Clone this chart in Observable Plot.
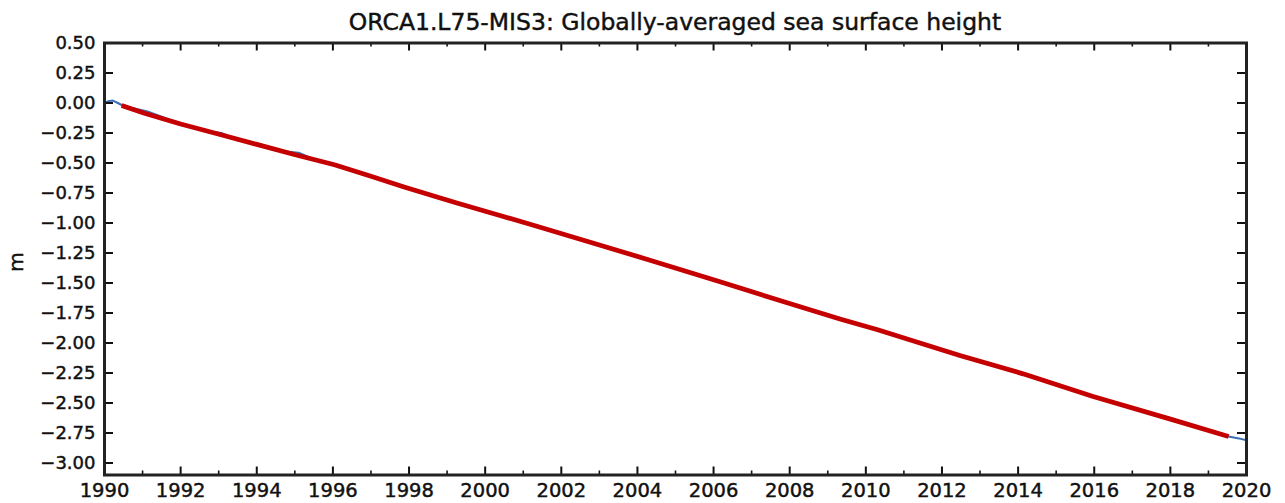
<!DOCTYPE html>
<html><head><meta charset="utf-8">
<script src="https://cdn.jsdelivr.net/npm/d3@7"></script>
<script src="https://cdn.jsdelivr.net/npm/@observablehq/plot@0.6"></script>
<style>
body{margin:0;background:#fff;}
#wrap{position:relative;width:1285px;height:503px;}
#title{position:absolute;left:104px;width:1142px;top:8px;text-align:center;font-family:"DejaVu Sans";font-size:23.5px;color:#111;white-space:nowrap;-webkit-text-stroke:0.45px #111;}
#ylab{position:absolute;left:16px;top:262px;transform:translate(-50%,-50%) rotate(-90deg);font-family:"DejaVu Sans";font-size:20px;color:#111;-webkit-text-stroke:0.45px #111;}
#chart{position:absolute;left:0;top:0;}
#chart svg text{stroke:#111;stroke-width:0.45px;}
</style></head><body>
<div id="wrap">
<div id="chart"></div>
<div id="title">ORCA1.L75-MIS3: Globally-averaged sea surface height</div>
<div id="ylab">m</div>
</div>
<script>
// Raw globally-averaged SSH (blue)
const blueYears = [1990.0,1990.1,1990.22,1990.35,1990.5,1991.13,1991.5,1992.0,1992.6,1993.07,1993.5,1994.0,1994.6,1995.1,1995.6,1996.04,1997.0,1997.87,1999.19,2000.41,2001.18,2002.76,2004.33,2006.17,2007.74,2009.32,2010.31,2012.47,2014.13,2015.97,2017.98,2019.53,2019.8,2020.0];
const blueValues = [0.0,0.015,0.02,0.0,-0.025,-0.07,-0.115,-0.175,-0.232,-0.25,-0.31,-0.345,-0.40,-0.415,-0.48,-0.515,-0.61,-0.70,-0.827,-0.94,-1.01,-1.16,-1.31,-1.49,-1.646,-1.80,-1.89,-2.104,-2.257,-2.446,-2.632,-2.779,-2.795,-2.81];
// Smoothed series (red)
const redYears = [1990.45,1991.05,1992.0,1993.06,1994.0,1995.06,1996.04,1997.0,1997.87,1999.19,2000.41,2001.18,2002.76,2004.33,2006.17,2007.74,2009.32,2010.31,2012.47,2014.13,2015.97,2017.98,2019.53];
const redValues = [-0.02,-0.085,-0.175,-0.265,-0.345,-0.435,-0.515,-0.61,-0.70,-0.827,-0.94,-1.01,-1.16,-1.31,-1.49,-1.646,-1.80,-1.89,-2.104,-2.257,-2.446,-2.632,-2.779];
// Ticks
const xTicks = [1990,1992,1994,1996,1998,2000,2002,2004,2006,2008,2010,2012,2014,2016,2018,2020];
const xMinor = [1991,1993,1995,1997,1999,2001,2003,2005,2007,2009,2011,2013,2015,2017,2019];
const yTicks = [0.5,0.25,0,-0.25,-0.5,-0.75,-1,-1.25,-1.5,-1.75,-2,-2.25,-2.5,-2.75,-3];

const blue = blueYears.map((x,i)=>({x, y: blueValues[i]}));
const red = redYears.map((x,i)=>({x, y: redValues[i]}));

const W=1285, H=503, mL=104, mR=39, mT=42.5, mB=28.5;
const fw = W-mL-mR, fh = H-mT-mB;
const ink = "#111";

const chart = Plot.plot({
  width: W, height: H,
  marginLeft: mL, marginRight: mR, marginTop: mT, marginBottom: mB,
  style: {fontFamily: "DejaVu Sans", fontSize: "18px", color: ink, background: "transparent"},
  x: {domain: [1990, 2020]},
  y: {domain: [-3.1, 0.5]},
  marks: [
    Plot.line(blue, {x: "x", y: "y", stroke: "#3b6eb5", strokeWidth: 2}),
    Plot.line(red, {x: "x", y: "y", stroke: "#c40000", strokeWidth: 4.8, strokeLinecap: "butt"}),
    Plot.axisX(xTicks, {tickSize: 0, tickPadding: 8, tickFormat: d => String(d), fontSize: 19.5, label: null}),
    Plot.axisY(yTicks, {tickSize: 0, tickPadding: 9, tickFormat: d3.format(".2f"), label: null}),
    Plot.tickX(xTicks, {x: d => d, insetTop: fh - 8, stroke: ink, strokeWidth: 2}),
    Plot.tickX(xTicks, {x: d => d, insetBottom: fh - 8, stroke: ink, strokeWidth: 2}),
    Plot.tickX(xMinor, {x: d => d, insetTop: fh - 4, stroke: ink, strokeWidth: 1.6}),
    Plot.tickX(xMinor, {x: d => d, insetBottom: fh - 4, stroke: ink, strokeWidth: 1.6}),
    Plot.tickY(yTicks, {y: d => d, insetRight: fw - 9, stroke: ink, strokeWidth: 2}),
    Plot.tickY(yTicks, {y: d => d, insetLeft: fw - 9, stroke: ink, strokeWidth: 2}),
    Plot.frame({stroke: "#222", strokeWidth: 3})
  ]
});
document.getElementById("chart").appendChild(chart);
</script>
</body></html>
